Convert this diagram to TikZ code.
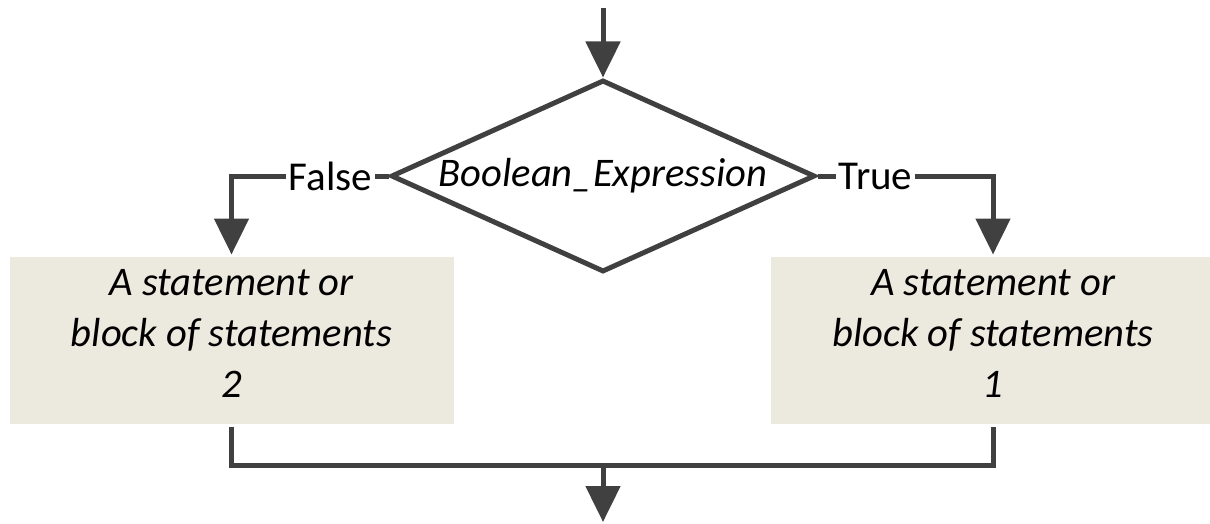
\documentclass[tikz,border=0pt]{standalone}
\usepackage{fontspec}
\setmainfont{Carlito}
\usetikzlibrary{shapes.geometric,arrows.meta}
\definecolor{linegray}{HTML}{404040}
\definecolor{boxfill}{HTML}{ECE9DF}

\begin{document}
\begin{tikzpicture}[x=0.5pt, y=-0.5pt,
		every node/.style={font=\fontsize{20.5}{25.5}\selectfont},
		every path/.style={draw=linegray, line width=2.5pt},
		arr/.style={-{Triangle[width=17pt, length=18pt]}},
		decision/.style={diamond, draw=linegray, aspect=2.2, inner sep=0pt, minimum width=212pt, minimum height=96pt, font=\fontsize{20.3}{25.5}\selectfont\itshape},
		stmtbox/.style={rectangle, draw=none, fill=boxfill, minimum width=222pt, minimum height=83.5pt, text width=210pt, align=flush center, font=\fontsize{20.3}{25.5}\selectfont\itshape},
		lbl/.style={fill=white, draw=none, inner sep=1.5pt}]
				\useasboundingbox[draw=none] (0,0) rectangle (1210,524);
				
				\node[decision] (cond) at (603,176) {Boolean\_Expression};
				\node[stmtbox] (stmtb) at (231.5,340.5) {A statement or\\block of statements\\2\rule[-7pt]{0pt}{0pt}};
				\node[stmtbox] (stmta) at (993,340.5) {A statement or\\block of statements\\1\rule[-7pt]{0pt}{0pt}};
				
				\coordinate (entry) at (603,8);
				\coordinate (join) at (603,465);
				\coordinate (exit) at (603,522);
				
				\draw[arr] (entry) -- (cond.north);
				\draw[arr] (cond.west) -- node[lbl, pos=0.37]{False} (cond.west -| stmtb) -- (stmtb.north);
				\draw[arr] (cond.east) -- node[lbl, pos=0.33]{True} (cond.east -| stmta) -- (stmta.north);
				\draw (stmtb.south) -- (stmtb.south |- join) -- (stmta.south |- join) -- (stmta.south);
				\draw[arr] (join) -- (exit);
				\end{tikzpicture}
\end{document}
